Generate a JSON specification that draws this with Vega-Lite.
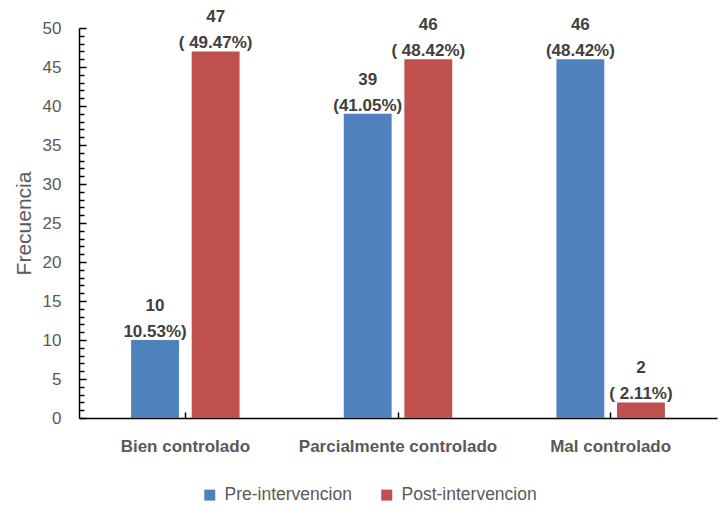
{
  "$schema": "https://vega.github.io/schema/vega-lite/v6.json",
  "width": 638,
  "height": 390,
  "autosize": {"type": "none"},
  "padding": {"left": 79, "top": 28, "right": 1, "bottom": 90},
  "background": "white",
  "config": {
    "view": {"stroke": null},
    "font": "Liberation Sans, Arial, sans-serif"
  },
  "data": {
    "values": [
      {"categoria": "Bien controlado", "grupo": "Pre-intervencion", "frecuencia": 10, "etiqueta": "10\n10.53%)"},
      {"categoria": "Bien controlado", "grupo": "Post-intervencion", "frecuencia": 47, "etiqueta": "47\n( 49.47%)"},
      {"categoria": "Parcialmente controlado", "grupo": "Pre-intervencion", "frecuencia": 39, "etiqueta": "39\n(41.05%)"},
      {"categoria": "Parcialmente controlado", "grupo": "Post-intervencion", "frecuencia": 46, "etiqueta": "46\n( 48.42%)"},
      {"categoria": "Mal controlado", "grupo": "Pre-intervencion", "frecuencia": 46, "etiqueta": "46\n(48.42%)"},
      {"categoria": "Mal controlado", "grupo": "Post-intervencion", "frecuencia": 2, "etiqueta": "2\n( 2.11%)"}
    ]
  },
  "encoding": {
    "x": {
      "field": "categoria",
      "type": "nominal",
      "sort": ["Bien controlado", "Parcialmente controlado", "Mal controlado"],
      "scale": {"paddingInner": 0.49, "paddingOuter": 0.245},
      "axis": {
        "title": null,
        "labelAngle": 0,
        "labelFontSize": 17,
        "labelFontWeight": "bold",
        "labelColor": "#595959",
        "labelPadding": 26,
        "labelLimit": 0,
        "domainColor": "#000000",
        "domainWidth": 1.5,
        "tickColor": "#000000",
        "tickWidth": 1.5,
        "tickSize": -6
      }
    },
    "xOffset": {
      "field": "grupo",
      "type": "nominal",
      "sort": ["Pre-intervencion", "Post-intervencion"],
      "scale": {"paddingInner": 0.21, "paddingOuter": 0}
    },
    "y": {
      "field": "frecuencia",
      "type": "quantitative",
      "scale": {"domain": [0, 50], "nice": false},
      "axis": {
        "title": "Frecuencia",
        "titleFontSize": 21,
        "titleFontWeight": "normal",
        "titleColor": "#595959",
        "titlePadding": 8,
        "values": [0,1,2,3,4,5,6,7,8,9,10,11,12,13,14,15,16,17,18,19,20,21,22,23,24,25,26,27,28,29,30,31,32,33,34,35,36,37,38,39,40,41,42,43,44,45,46,47,48,49,50],
        "labelExpr": "datum.value % 5 === 0 ? datum.label : ''",
        "labelFontSize": 17,
        "labelColor": "#595959",
        "labelPadding": 25,
        "grid": false,
        "domainColor": "#000000",
        "domainWidth": 1.5,
        "tickColor": "#000000",
        "tickWidth": 1.5,
        "tickSize": {"condition": {"test": "datum.value % 5 === 0", "value": -7}, "value": -5}
      }
    }
  },
  "layer": [
    {
      "mark": {"type": "bar"},
      "encoding": {
        "color": {
          "field": "grupo",
          "type": "nominal",
          "sort": ["Pre-intervencion", "Post-intervencion"],
          "scale": {"domain": ["Pre-intervencion", "Post-intervencion"], "range": ["#4F81BD", "#C0504D"]},
          "legend": {
            "title": null,
            "orient": "none",
            "direction": "horizontal",
            "legendX": 122,
            "legendY": 458,
            "symbolType": "square",
            "symbolSize": 121,
            "symbolStrokeWidth": 0,
            "symbolOpacity": 1,
            "labelFontSize": 17.5,
            "labelColor": "#595959",
            "labelOffset": 6,
            "columnPadding": 26
          }
        }
      }
    },
    {
      "mark": {
        "type": "text",
        "baseline": "alphabetic",
        "lineBreak": "\n",
        "dy": -29,
        "fontSize": 17,
        "fontWeight": "bold",
        "color": "#404040",
        "lineHeight": 26
      },
      "encoding": {
        "text": {"field": "etiqueta", "type": "nominal"}
      }
    }
  ]
}
